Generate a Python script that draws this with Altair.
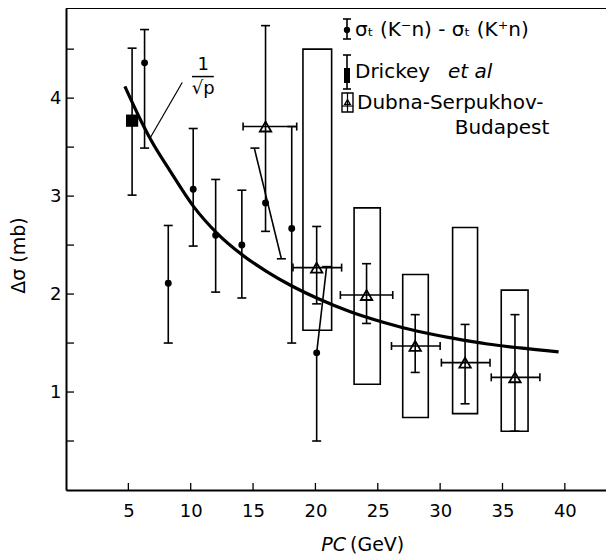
import altair as alt
import pandas as pd

# ---------------- data ----------------
# 1/sqrt(p) curve
curve_p = [4.72, 5.97, 6.78, 8.38, 10.25, 12.12, 14.13, 16.1, 18.0, 20.1, 22.8, 25.5, 28.2, 31.0, 33.8, 36.4, 39.5]
curve_ds = [4.12, 3.78, 3.58, 3.25, 2.89, 2.62, 2.40, 2.23, 2.09, 1.96, 1.82, 1.71, 1.62, 1.55, 1.49, 1.45, 1.41]

# sigma_t(K-n) - sigma_t(K+n) points
dot_p = [6.3, 8.2, 10.2, 12.0, 14.1, 16.0, 18.1, 20.1]
dot_ds = [4.36, 2.11, 3.07, 2.60, 2.50, 2.93, 2.67, 1.40]

# their vertical error bars
vbar_p = [6.3, 8.2, 10.2, 12.0, 14.1, 18.1, 20.1]
vbar_lo = [3.49, 1.50, 2.49, 2.02, 1.96, 1.50, 0.50]
vbar_hi = [4.70, 2.70, 3.69, 3.17, 3.06, 3.71, 1.40]
vbar_capped_hi = [True, True, True, True, True, True, False]

# slanted error bars (as drawn)
slant_p1 = [15.1, 20.1]
slant_d1 = [3.49, 1.40]
slant_p2 = [17.27, 20.9]
slant_d2 = [2.36, 2.28]
slant_cap_p = [15.15, 17.27, 20.9]
slant_cap_d = [3.49, 2.36, 2.28]

# Drickey et al
dr_p = [5.3]
dr_ds = [3.77]
dr_lo = [3.01]
dr_hi = [4.51]

# Dubna-Serpukhov-Budapest
dub_p = [16.0, 20.1, 24.1, 28.0, 32.0, 36.0]
dub_ds = [3.71, 2.27, 1.99, 1.47, 1.30, 1.15]
dub_plo = [14.2, 18.2, 22.0, 26.1, 30.1, 34.1]
dub_phi = [18.5, 22.1, 26.2, 30.0, 34.0, 38.0]
dub_lo = [2.64, 1.90, 1.70, 1.20, 0.88, 0.60]
dub_hi = [4.74, 2.69, 2.31, 1.79, 1.69, 1.79]

# systematic boxes
box_p1 = [19.0, 23.1, 27.0, 31.0, 34.9]
box_p2 = [21.3, 25.2, 29.05, 33.0, 37.05]
box_lo = [1.63, 1.08, 0.74, 0.78, 0.60]
box_hi = [4.50, 2.88, 2.20, 2.68, 2.04]

# 1/sqrt(p) annotation (data coordinates)
leader_p = [9.32, 6.78]
leader_d = [4.16, 3.60]
frac_p = [11.0]
frac_num_d = [4.34]
frac_bar_p = [10.1, 11.85]
frac_bar_d = [4.22]
frac_den_d = [4.09]

x_tick_values = [5, 10, 15, 20, 25, 30, 35, 40]
y_label_values = [1, 2, 3, 4]
y_tick_values = [0.5, 1, 1.5, 2, 2.5, 3, 3.5, 4, 4.5]

# ---------------- chart ----------------
W, H = 540, 482
FONT = "DejaVu Sans"
xs = alt.Scale(domain=[0, 43.3], nice=False, zero=False)
ys = alt.Scale(domain=[0, 4.92], nice=False, zero=False)
LW = 1.6

AX_X = alt.Axis(values=x_tick_values, title=None, tickSize=0, grid=False,
                labelFontSize=18, labelPadding=12, labelFont=FONT,
                labelColor="black", domainColor="black", domainWidth=2)
AX_Y = alt.Axis(values=y_label_values, title="Δσ (mb)", tickSize=0, grid=False,
                labelFontSize=18, labelPadding=5, labelFont=FONT,
                labelColor="black", domainColor="black", domainWidth=2,
                titleFont=FONT, titleFontSize=19, titleFontWeight="normal",
                titleColor="black", titleX=-42, titleY=247,
                titleBaseline="alphabetic", titleAlign="center")


def X(f):
    return alt.X(f, type="quantitative", scale=xs, axis=AX_X)


def Y(f):
    return alt.Y(f, type="quantitative", scale=ys, axis=AX_Y)


one = pd.DataFrame({"k": [0]})

top_line = alt.Chart(one).mark_rule(color="black", strokeWidth=2).encode(
    x=alt.value(0), x2=alt.value(W), y=alt.value(0))

yt = alt.Chart(pd.DataFrame({"v": y_tick_values})).mark_rule(color="black", strokeWidth=1.3).encode(
    y=Y("v"), x=alt.value(0), x2=alt.value(8))
xt = alt.Chart(pd.DataFrame({"v": x_tick_values})).mark_rule(color="black", strokeWidth=1.3).encode(
    x=X("v"), y=alt.value(H), y2=alt.value(H - 7))

boxes = alt.Chart(pd.DataFrame({"p1": box_p1, "p2": box_p2, "lo": box_lo, "hi": box_hi})).mark_rect(
    fillOpacity=0, stroke="black", strokeWidth=LW).encode(x=X("p1"), x2="p2", y=Y("lo"), y2="hi")

curve = alt.Chart(pd.DataFrame({"p": curve_p, "d": curve_ds})).mark_line(
    color="black", strokeWidth=3.2, interpolate="monotone").encode(x=X("p"), y=Y("d"))

vbars = alt.Chart(pd.DataFrame({"p": vbar_p, "lo": vbar_lo, "hi": vbar_hi})).mark_rule(
    color="black", strokeWidth=LW).encode(x=X("p"), y=Y("lo"), y2="hi")

slants = alt.Chart(pd.DataFrame({"p1": slant_p1, "d1": slant_d1, "p2": slant_p2, "d2": slant_d2})).mark_rule(
    color="black", strokeWidth=LW).encode(x=X("p1"), y=Y("d1"), x2="p2", y2="d2")

dr_bar = alt.Chart(pd.DataFrame({"p": dr_p, "lo": dr_lo, "hi": dr_hi})).mark_rule(
    color="black", strokeWidth=LW).encode(x=X("p"), y=Y("lo"), y2="hi")

dub_v = alt.Chart(pd.DataFrame({"p": dub_p, "lo": dub_lo, "hi": dub_hi})).mark_rule(
    color="black", strokeWidth=LW).encode(x=X("p"), y=Y("lo"), y2="hi")
dub_h = alt.Chart(pd.DataFrame({"lo": dub_plo, "hi": dub_phi, "d": dub_ds})).mark_rule(
    color="black", strokeWidth=LW).encode(x=X("lo"), x2="hi", y=Y("d"))

cap_p, cap_d = [], []
for p, lo, hi, c in zip(vbar_p, vbar_lo, vbar_hi, vbar_capped_hi):
    cap_p.append(p); cap_d.append(lo)
    if c:
        cap_p.append(p); cap_d.append(hi)
cap_p += slant_cap_p; cap_d += slant_cap_d
cap_p += dr_p * 2; cap_d += dr_lo + dr_hi
cap_p += dub_p * 2; cap_d += dub_lo + dub_hi

hcaps = alt.Chart(pd.DataFrame({"p": cap_p, "d": cap_d})).mark_tick(
    orient="horizontal", size=9, thickness=LW, color="black", opacity=1).encode(x=X("p"), y=Y("d"))
vcaps = alt.Chart(pd.DataFrame({"p": dub_plo + dub_phi, "d": dub_ds * 2})).mark_tick(
    orient="vertical", size=8, thickness=LW, color="black", opacity=1).encode(x=X("p"), y=Y("d"))

dots = alt.Chart(pd.DataFrame({"p": dot_p, "d": dot_ds})).mark_circle(
    size=48, color="black", opacity=1).encode(x=X("p"), y=Y("d"))
square = alt.Chart(pd.DataFrame({"p": dr_p, "d": dr_ds})).mark_square(
    size=150, color="black", opacity=1).encode(x=X("p"), y=Y("d"))
tris = alt.Chart(pd.DataFrame({"p": dub_p, "d": dub_ds})).mark_point(
    shape="triangle-up", size=130, filled=False, stroke="black", strokeWidth=1.8, opacity=1).encode(
    x=X("p"), y=Y("d"))

# 1/sqrt(p) annotation
leader = alt.Chart(pd.DataFrame({"p1": [leader_p[0]], "d1": [leader_d[0]], "p2": [leader_p[1]], "d2": [leader_d[1]]})).mark_rule(
    color="black", strokeWidth=1.2).encode(x=X("p1"), y=Y("d1"), x2="p2", y2="d2")
frac_num = alt.Chart(pd.DataFrame({"p": frac_p, "d": frac_num_d})).mark_text(
    text="1", font=FONT, fontSize=18, color="black").encode(x=X("p"), y=Y("d"))
frac_bar = alt.Chart(pd.DataFrame({"p1": [frac_bar_p[0]], "p2": [frac_bar_p[1]], "d": frac_bar_d})).mark_rule(
    color="black", strokeWidth=1.5).encode(x=X("p1"), x2="p2", y=Y("d"))
frac_den = alt.Chart(pd.DataFrame({"p": frac_p, "d": frac_den_d})).mark_text(
    text="√p", font=FONT, fontSize=18, color="black").encode(x=X("p"), y=Y("d"))

# x-axis title
xt1 = alt.Chart(one).mark_text(text="PC", font=FONT, fontSize=19, fontStyle="italic", align="right",
                               baseline="middle", color="black").encode(x=alt.value(280), y=alt.value(537))
xt2 = alt.Chart(one).mark_text(text="(GeV)", font=FONT, fontSize=19, align="left",
                               baseline="middle", color="black").encode(x=alt.value(284), y=alt.value(537))


# legend
def txt(t, x, y, align="left", style="normal", size=19):
    return alt.Chart(one).mark_text(text=t, font=FONT, fontSize=size, align=align, baseline="middle",
                                    fontStyle=style, color="black").encode(x=alt.value(x), y=alt.value(y))


def vrule(x, y1, y2, w=LW):
    return alt.Chart(one).mark_rule(color="black", strokeWidth=w).encode(
        x=alt.value(x), y=alt.value(y1), y2=alt.value(y2))


def hrule(x1, x2, y, w=LW):
    return alt.Chart(one).mark_rule(color="black", strokeWidth=w).encode(
        x=alt.value(x1), x2=alt.value(x2), y=alt.value(y))


lx = 281
leg = [
    vrule(lx, 11, 31), hrule(lx - 4, lx + 4, 11), hrule(lx - 4, lx + 4, 31),
    alt.Chart(one).mark_circle(size=40, color="black", opacity=1).encode(x=alt.value(lx), y=alt.value(22)),
    txt("σₜ (K⁻n) - σₜ (K⁺n)", 289, 22, size=20),
    vrule(lx, 47, 81), hrule(lx - 4, lx + 4, 47), hrule(lx - 4, lx + 4, 81),
    alt.Chart(one).mark_rect(color="black").encode(x=alt.value(lx - 3), x2=alt.value(lx + 3),
                                                   y=alt.value(60), y2=alt.value(75)),
    txt("Drickey", 289, 64, size=20), txt("et al", 382, 64, style="italic", size=20),
    alt.Chart(one).mark_rect(fillOpacity=0, stroke="black", strokeWidth=1.4).encode(
        x=alt.value(276), x2=alt.value(287), y=alt.value(85), y2=alt.value(104)),
    vrule(281.5, 85, 104, 1.2), hrule(276, 287, 98, 1.2),
    alt.Chart(one).mark_point(shape="triangle-up", size=30, filled=False, stroke="black", strokeWidth=1.3,
                              opacity=1).encode(x=alt.value(281.5), y=alt.value(94)),
    txt("Dubna-Serpukhov-", 291, 95, size=20),
    txt("Budapest", 436, 120, align="center", size=20),
]

chart = alt.layer(
    boxes, curve, vbars, slants, dr_bar, dub_v, dub_h, hcaps, vcaps,
    dots, square, tris, leader, frac_num, frac_bar, frac_den, yt, xt, top_line, xt1, xt2, *leg
).properties(
    width=W, height=H,
    autosize=alt.AutoSizeParams(type="none"),
    padding={"left": 58, "top": 0, "right": 0, "bottom": 66},
).configure_view(stroke=None).configure(background="white")

chart.save("out.html", embed_options={"renderer": "svg", "actions": False})
